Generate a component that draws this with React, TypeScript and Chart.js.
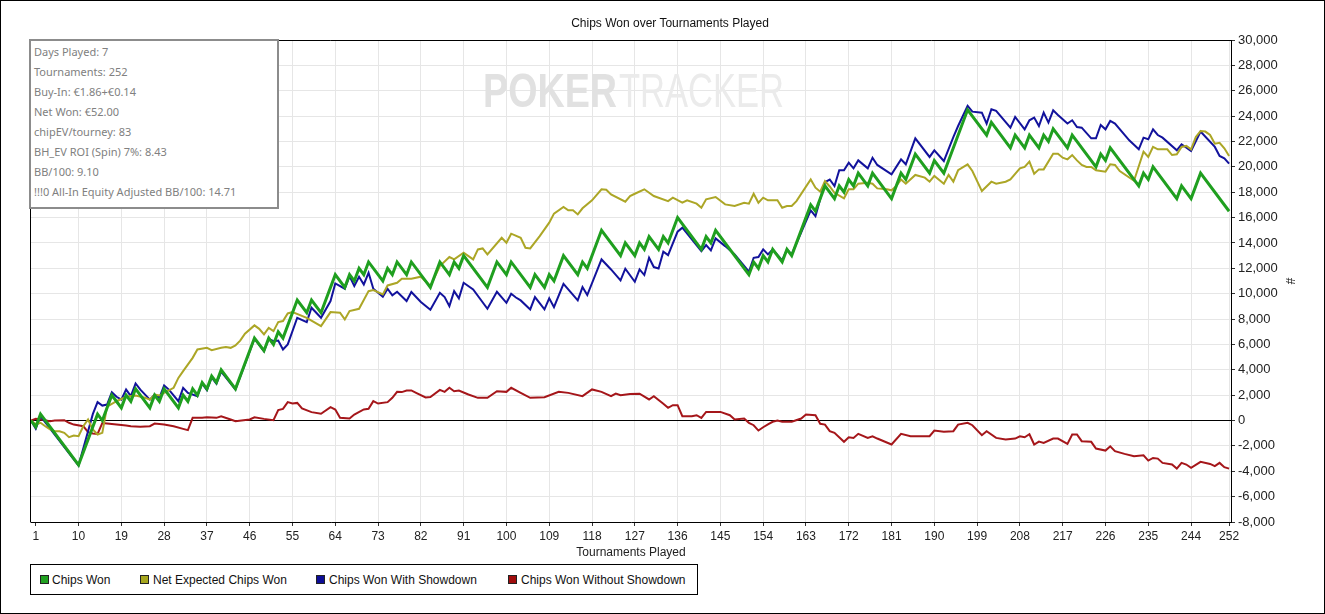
import React, { useEffect, useRef } from 'react';
import { Chart, registerables } from 'chart.js';

Chart.register(...registerables);

const chartTitle = 'Chips Won over Tournaments Played';
const xAxisTitle = 'Tournaments Played';
const yAxisTitle = '#';

const tourneyTicks = [1, 10, 19, 28, 37, 46, 55, 64, 73, 82, 91, 100, 109, 118, 127, 136, 145, 154, 163, 172, 181, 190, 199, 208, 217, 226, 235, 244, 252];

const seriesNames = ['Chips Won', 'Net Expected Chips Won', 'Chips Won With Showdown', 'Chips Won Without Showdown'];

const statsLines = [
  'Days Played: 7',
  'Tournaments: 252',
  'Buy-In: €1.86+€0.14',
  'Net Won: €52.00',
  'chipEV/tourney: 83',
  'BH_EV ROI (Spin) 7%: 8.43',
  'BB/100: 9.10',
  '!!!0 All-In Equity Adjusted BB/100: 14.71',
];

// [tournament, chips]
const chipsWon: [number, number][] = [
  [0, 0], [1, -500], [2, 500], [10, -3500], [14, 500], [15, 0], [17, 2000], [18, 1500], [19, 1000], [20, 2000], [21, 1500], [22, 2500],
  [25, 1000], [26, 2000], [27, 1500], [28, 2500], [31, 1000], [32, 2000], [33, 1500], [34, 2500], [35, 2000], [36, 3000], [37, 2500],
  [38, 3500], [39, 3000], [40, 4000], [43, 2500], [47, 6500], [49, 5500], [50, 6500], [51, 6000], [52, 7000], [53, 6500], [56, 9500],
  [58, 8500], [59, 9500], [61, 8500], [64, 11500], [66, 10500], [67, 11500], [68, 11000], [69, 12000], [70, 11500], [71, 12500],
  [74, 11000], [75, 12000], [76, 11500], [77, 12500], [79, 11500], [80, 12500], [84, 10500], [86, 12500], [88, 11500], [89, 12500],
  [90, 12000], [91, 13000], [96, 10500], [98, 12500], [100, 11500], [101, 12500], [105, 10500], [106, 11500], [108, 10500],
  [109, 11500], [110, 11000], [112, 13000], [115, 11500], [116, 12500], [117, 12000], [120, 15000], [124, 13000], [125, 14000],
  [127, 13000], [128, 14000], [129, 13500], [130, 14500], [132, 13500], [133, 14500], [134, 14000], [136, 16000], [141, 13500],
  [142, 14500], [143, 14000], [144, 15000], [151, 11500], [152, 12500], [153, 12000], [154, 13000], [155, 12500], [156, 13500],
  [158, 12500], [159, 13500], [160, 13000], [164, 17000], [165, 16500], [167, 18500], [169, 17500], [170, 18500], [171, 18000],
  [172, 19000], [173, 18500], [174, 19500], [176, 18500], [177, 19500], [181, 17500], [183, 19500], [184, 19000], [186, 21000],
  [189, 19500], [190, 20500], [192, 19500], [197, 24500], [201, 22500], [202, 23500], [206, 21500], [207, 22500], [209, 21500],
  [210, 22500], [212, 21500], [213, 22500], [214, 22000], [215, 23000], [218, 21500], [219, 22500], [224, 20000], [225, 21000],
  [226, 20500], [227, 21500], [233, 18500], [234, 19500], [235, 19000], [236, 20000], [241, 17500], [242, 18500], [244, 17500],
  [246, 19500], [252, 16500],
];

const netExpected: [number, number][] = [
  [0, 0], [1, -300], [2, -180], [3, -450], [4, -700], [5, -840], [6, -840], [7, -970], [8, -1310], [9, -1180], [10, -1240], [11, -450],
  [12, 80], [13, -700], [14, -1100], [15, -970], [16, 1100], [18, 1520], [20, 1870], [22, 1970], [24, 1790], [25, 1650], [26, 2050],
  [27, 1970], [28, 2180], [30, 2580], [31, 3360], [32, 3890], [34, 4940], [35, 5600], [37, 5730], [38, 5550], [40, 5730], [41, 5800],
  [42, 5730], [43, 5920], [44, 6300], [45, 6840], [47, 7500], [48, 7230], [49, 6790], [50, 7310], [51, 7050], [52, 7760], [53, 7840],
  [54, 8440], [55, 8550], [58, 8100], [61, 7440], [63, 8550], [65, 8500], [66, 7970], [67, 8630], [69, 8810], [71, 10200], [72, 10280],
  [74, 9940], [75, 10650], [77, 10860], [78, 11180], [80, 11180], [82, 11340], [84, 10600], [86, 12180], [88, 12890], [89, 12700],
  [91, 13230], [93, 12700], [94, 13490], [95, 13570], [96, 13100], [99, 14410], [100, 14020], [101, 14730], [103, 14410], [104, 13620],
  [105, 13570], [107, 14540], [109, 15600], [110, 16310], [112, 16830], [113, 16570], [114, 16570], [115, 16250], [116, 16730],
  [118, 17360], [120, 18230], [121, 18200], [122, 17830], [125, 17250], [126, 17700], [127, 17880], [129, 18230], [131, 17700],
  [134, 17300], [135, 17570], [137, 17170], [138, 17360], [140, 17100], [141, 16780], [142, 17440], [144, 17620], [146, 17040],
  [148, 16910], [150, 17170], [151, 17100], [152, 17880], [153, 17170], [154, 17570], [155, 17360], [157, 17360], [158, 16780],
  [159, 16910], [160, 16910], [161, 17300], [164, 19010], [165, 18360], [166, 18040], [167, 18880], [168, 18450], [169, 17950],
  [171, 17520], [172, 18230], [173, 18230], [174, 18670], [176, 18750], [177, 18670], [178, 18300], [180, 18230], [181, 18150],
  [182, 18490], [183, 19010], [184, 18670], [186, 19360], [188, 19150], [189, 18830], [190, 19280], [192, 18670], [193, 19360],
  [194, 18830], [195, 19730], [197, 20200], [198, 19670], [200, 18090], [202, 18830], [203, 18670], [205, 18830], [206, 19010],
  [208, 19880], [209, 19990], [210, 20410], [211, 19460], [212, 19800], [213, 19800], [215, 21040], [216, 21040], [217, 20720],
  [218, 20590], [219, 20930], [220, 20510], [221, 20150], [222, 19990], [223, 19990], [224, 19730], [226, 19620], [227, 20200],
  [228, 20150], [229, 19670], [232, 18900], [234, 21200], [235, 20780], [236, 21570], [237, 21380], [239, 21380], [240, 20930],
  [241, 20990], [242, 21570], [243, 21650], [244, 21380], [245, 22350], [246, 22830], [247, 22780], [248, 22510], [249, 21830],
  [250, 21900], [251, 21460], [252, 20860],
];

const withShowdown: [number, number][] = [
  [0, 0], [1, -650], [2, 350], [10, -3550], [13, 500], [14, 1450], [15, 1180], [16, 1260], [17, 2230], [18, 1870], [19, 1650],
  [20, 2440], [21, 1920], [22, 2920], [23, 2440], [25, 1650], [26, 2050], [27, 1790], [28, 2760], [29, 2440], [31, 1520], [32, 2580],
  [33, 2180], [35, 1920], [36, 2900], [37, 2400], [38, 3400], [39, 2900], [40, 3850], [43, 2450], [47, 6450], [49, 5470], [50, 6440],
  [51, 6250], [52, 6300], [53, 5600], [54, 6000], [56, 8100], [58, 7760], [59, 8890], [61, 8100], [63, 9420], [64, 10810], [66, 10390],
  [67, 11390], [68, 10600], [69, 11340], [70, 10730], [71, 11650], [72, 10390], [74, 9760], [75, 10390], [76, 9870], [77, 10150],
  [79, 9420], [80, 10130], [82, 9340], [84, 8730], [86, 10070], [87, 9730], [88, 9020], [89, 10200], [90, 9630], [91, 10860],
  [93, 10340], [96, 8810], [98, 10150], [100, 9280], [101, 9990], [102, 9700], [103, 9470], [105, 8760], [106, 9730], [108, 8760],
  [109, 9630], [110, 8940], [112, 10780], [115, 9470], [116, 10520], [117, 9890], [120, 12700], [122, 11910], [124, 11050],
  [125, 11970], [127, 10940], [128, 11910], [129, 11470], [130, 12830], [131, 12100], [132, 11990], [133, 13310], [134, 13040],
  [136, 14890], [137, 15200], [141, 13360], [142, 13830], [143, 13410], [144, 14360], [146, 13750], [148, 13100], [151, 11730],
  [152, 12830], [153, 12890], [154, 13490], [155, 13100], [156, 13490], [158, 12620], [159, 13490], [160, 13100], [164, 16570],
  [165, 16120], [167, 18800], [168, 19000], [169, 18490], [170, 19730], [171, 19730], [172, 20330], [173, 19880], [174, 20510],
  [176, 19880], [177, 20720], [178, 20150], [181, 19410], [183, 20590], [184, 20200], [186, 22250], [189, 20780], [190, 21300],
  [192, 20460], [194, 22350], [195, 23220], [197, 24800], [198, 24350], [200, 24270], [201, 23410], [202, 24540], [203, 24410],
  [206, 23090], [207, 23930], [209, 22960], [210, 23670], [211, 23880], [212, 23220], [213, 24270], [214, 23490], [215, 24460],
  [216, 24090], [218, 23410], [219, 23670], [220, 23140], [221, 23090], [223, 22250], [224, 22250], [225, 23300], [226, 22960],
  [227, 23620], [228, 23410], [231, 22090], [233, 21380], [234, 22300], [235, 22170], [236, 22960], [237, 22510], [238, 22300],
  [241, 21300], [242, 21780], [244, 21250], [246, 22780], [249, 21570], [250, 20860], [251, 20670], [252, 20250],
];

const withoutShowdown: [number, number][] = [
  [0, 0], [1, 130], [2, 80], [4, -50], [5, 0], [7, 30], [8, -180], [9, -320], [11, -450], [12, -920], [13, -1020], [14, -1050],
  [15, -200], [16, -240], [18, -320], [20, -390], [21, -450], [23, -500], [25, -450], [26, -240], [28, -320], [30, -450], [32, -660],
  [33, -760], [34, 210], [36, 210], [37, 260], [39, 210], [40, 340], [42, 80], [43, -50], [46, 80], [47, 260], [49, 130], [51, 30],
  [52, 820], [53, 920], [54, 1450], [55, 1340], [56, 1390], [57, 950], [59, 660], [61, 530], [63, 1050], [64, 870], [65, 210],
  [67, 160], [68, 470], [70, 870], [71, 920], [72, 1530], [73, 1340], [75, 1450], [76, 1790], [77, 2260], [78, 2240], [79, 2370],
  [80, 2370], [81, 2180], [83, 1820], [84, 1860], [86, 2420], [87, 2260], [88, 2580], [89, 2310], [90, 2370], [92, 2050], [94, 1790],
  [96, 1790], [98, 2310], [100, 2260], [101, 2580], [103, 2180], [105, 1790], [108, 1840], [111, 2260], [113, 2180], [116, 1920],
  [118, 2450], [120, 2260], [122, 1920], [123, 2130], [124, 2000], [126, 2100], [128, 2110], [130, 1660], [131, 1920], [133, 1320],
  [134, 1000], [135, 1210], [136, 1210], [137, 340], [139, 340], [140, 420], [141, 210], [142, 680], [145, 680], [147, 420],
  [148, 80], [150, 160], [151, -180], [152, -370], [153, -790], [154, -530], [155, -300], [156, -100], [157, 0], [158, -100],
  [160, -100], [162, 160], [163, 470], [165, 420], [166, -260], [167, -320], [168, -840], [169, -970], [171, -1680], [172, -1320],
  [173, -1370], [174, -1050], [176, -1370], [177, -1240], [178, -1420], [181, -1890], [183, -1050], [185, -1240], [189, -1240],
  [190, -790], [192, -890], [194, -840], [195, -320], [197, -180], [198, -370], [200, -1160], [201, -840], [203, -1370], [205, -1500],
  [207, -1420], [208, -1240], [209, -1320], [210, -1080], [211, -1890], [212, -1660], [213, -1760], [215, -1420], [216, -1420],
  [218, -1840], [219, -1100], [220, -1100], [221, -1630], [223, -1680], [224, -2210], [226, -2370], [227, -2030], [228, -2420],
  [230, -2630], [232, -2810], [234, -2740], [235, -3160], [236, -2950], [237, -3000], [238, -3340], [240, -3470], [241, -3790],
  [242, -3340], [243, -3470], [244, -3730], [246, -3260], [248, -3420], [249, -3600], [250, -3340], [251, -3680], [252, -3790],
];

const seriesData = [chipsWon, netExpected, withShowdown, withoutShowdown];
const seriesColors = ['#1f9f1f', '#aca626', '#12129c', '#a5161a'];
const swatchColors = ['#21a121', '#a6a61e', '#0d0d96', '#a00d0d'];
const seriesWidths = [3, 2, 2, 2];

const SANS = '"Liberation Sans", Arial, sans-serif';

const framePlugin = {
  id: 'frame',
  afterDatasetsDraw(chart: any) {
    const { ctx, chartArea } = chart;
    ctx.save();
    ctx.strokeStyle = '#000';
    ctx.lineWidth = 1;
    ctx.beginPath();
    ctx.moveTo(30.5, chartArea.bottom + 0.5);
    ctx.lineTo(30.5, 40.5);
    ctx.lineTo(chartArea.right + 0.5, 40.5);
    ctx.stroke();
    ctx.restore();
  },
};

const watermarkPlugin = {
  id: 'watermark',
  beforeDatasetsDraw(chart: any) {
    const { ctx } = chart;
    ctx.save();
    ctx.textBaseline = 'alphabetic';
    ctx.font = `bold 49px ${SANS}`;
    const w1 = ctx.measureText('POKER').width;
    ctx.translate(483, 107);
    ctx.scale(134 / w1, 1);
    ctx.fillStyle = '#e1e1e1';
    ctx.fillText('POKER', 0, 0);
    ctx.restore();
    ctx.save();
    ctx.font = `49px ${SANS}`;
    const w2 = ctx.measureText('TRACKER').width;
    ctx.translate(619, 107);
    ctx.scale(165 / w2, 1);
    ctx.fillStyle = '#ebebeb';
    ctx.fillText('TRACKER', 0, 0);
    ctx.restore();
  },
};

export default function App() {
  const ref = useRef<HTMLCanvasElement>(null);

  useEffect(() => {
    document.body.style.margin = '0';
    const canvas = ref.current;
    if (!canvas) return;
    const chart = new Chart(canvas, {
      type: 'line',
      data: {
        datasets: seriesData.map((s, i) => ({
          label: seriesNames[i],
          data: s.map(([x, y]) => ({ x, y })),
          borderColor: seriesColors[i],
          backgroundColor: seriesColors[i],
          borderWidth: seriesWidths[i],
          pointRadius: 0,
          pointHoverRadius: 0,
          tension: 0,
          fill: false,
        })),
      },
      options: {
        responsive: false,
        maintainAspectRatio: false,
        devicePixelRatio: 1,
        animation: false,
        events: [],
        layout: { padding: { left: 31, top: 40, right: 24, bottom: 52 } },
        plugins: {
          legend: { display: false },
          title: { display: false },
          tooltip: { enabled: false },
        },
        scales: {
          x: {
            type: 'linear',
            min: 0,
            max: 252.4,
            afterBuildTicks: (s: any) => {
              s.ticks = tourneyTicks.map((v) => ({ value: v }));
            },
            afterFit: (s: any) => {
              s.height = 40;
            },
            ticks: {
              autoSkip: false,
              maxRotation: 0,
              padding: 3,
              color: '#222',
              font: { family: SANS, size: 12 },
              callback: (v: any) => String(v),
            },
            grid: {
              color: (c: any) => (c.tick && c.tick.value === 1 ? 'rgba(0,0,0,0)' : '#e6e6e6'),
              tickColor: '#333',
              tickLength: 4,
            },
            border: { display: true, color: '#000', width: 1 },
            title: {
              display: true,
              text: xAxisTitle,
              color: '#222',
              font: { family: SANS, size: 12 },
              padding: { top: 0, bottom: 2 },
            },
          },
          y: {
            type: 'linear',
            position: 'right',
            min: -8000,
            max: 30000,
            afterFit: (s: any) => {
              s.width = 70;
            },
            ticks: {
              stepSize: 2000,
              autoSkip: false,
              padding: 3,
              color: '#222',
              font: { family: SANS, size: 13 },
              callback: (v: any) => Number(v).toLocaleString('en-US'),
            },
            grid: {
              color: (c: any) => (c.tick && c.tick.value === 0 ? '#000' : '#e6e6e6'),
              tickColor: '#333',
              tickLength: 4,
            },
            border: { display: true, color: '#000', width: 1 },
            title: {
              display: true,
              text: yAxisTitle,
              color: '#222',
              font: { family: SANS, size: 12 },
              padding: { top: 4, bottom: 4 },
            },
          },
        },
      } as any,
      plugins: [framePlugin, watermarkPlugin],
    });
    return () => chart.destroy();
  }, []);

  const legendSwatchX = [40, 140, 316, 508];
  const legendTextX = [52, 153, 329, 521];

  return (
    <div style={{ position: 'absolute', left: 0, top: 0, width: 1325, height: 614, background: '#fff', overflow: 'hidden' }}>
      <canvas ref={ref} width={1325} height={614} style={{ position: 'absolute', left: 0, top: 0, width: 1325, height: 614 }} />
      <div
        style={{
          position: 'absolute', left: 0, top: 16, width: 1340, textAlign: 'center',
          fontFamily: SANS, fontSize: 12, lineHeight: '14px', color: '#111', whiteSpace: 'nowrap',
        }}
      >
        {chartTitle}
      </div>
      <div
        style={{
          position: 'absolute', left: 29, top: 39, width: 250, height: 170, boxSizing: 'border-box',
          border: '2px solid #8c8c8c', background: '#fff',
        }}
      />
      {statsLines.map((line, i) => (
        <div
          key={line}
          style={{
            position: 'absolute', left: 34, top: 42 + i * 20, height: 20, lineHeight: '20px',
            fontFamily: '"Noto Sans", sans-serif', fontSize: 11, color: '#808080', whiteSpace: 'nowrap',
          }}
        >
          {line}
        </div>
      ))}
      <div
        style={{
          position: 'absolute', left: 30, top: 564, width: 668, height: 31, boxSizing: 'border-box',
          border: '1px solid #000', background: '#fff',
        }}
      />
      {seriesNames.map((name, i) => (
        <React.Fragment key={name}>
          <div
            style={{
              position: 'absolute', left: legendSwatchX[i], top: 575, width: 9, height: 9, boxSizing: 'border-box',
              border: '1px solid #222', background: swatchColors[i],
            }}
          />
          <div
            style={{
              position: 'absolute', left: legendTextX[i], top: 572, height: 16, lineHeight: '16px',
              fontFamily: SANS, fontSize: 12, color: '#111', whiteSpace: 'nowrap',
            }}
          >
            {name}
          </div>
        </React.Fragment>
      ))}
      <div
        style={{
          position: 'absolute', left: 0, top: 0, width: 1325, height: 614, boxSizing: 'border-box',
          border: '1px solid #000', pointerEvents: 'none',
        }}
      />
    </div>
  );
}
